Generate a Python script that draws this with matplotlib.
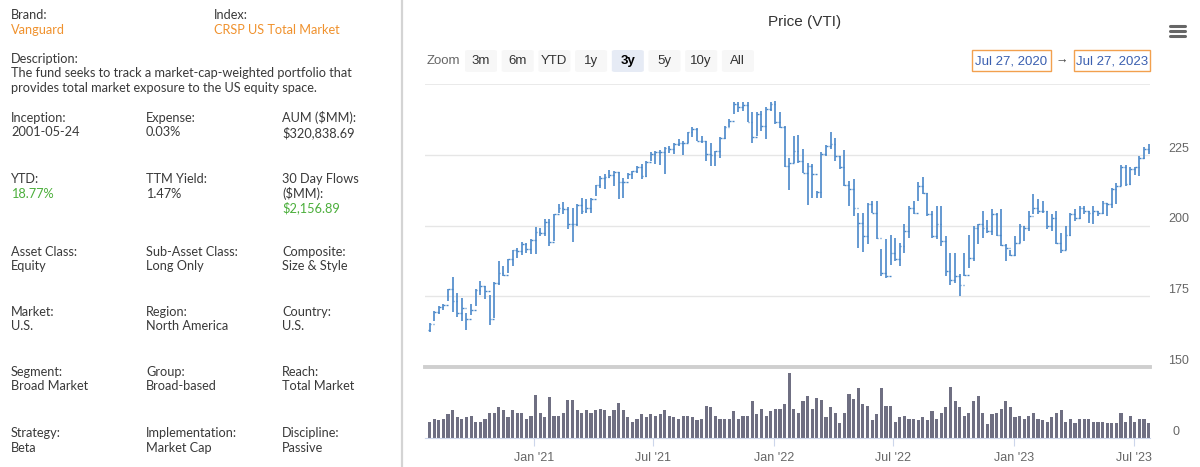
import matplotlib
matplotlib.use("Agg")
import matplotlib.pyplot as plt
import matplotlib.dates as mdates
from matplotlib.patches import FancyBboxPatch, Rectangle
from matplotlib.lines import Line2D
import pandas as pd

# weekly OHLC for VTI, Jul 27 2020 - Jul 24 2023
highs = [165.5, 169.9, 171.4, 172.2, 177.6, 181.8, 176.2, 174.4, 169.1, 172.2,
         177.6, 180.5, 178.5, 175.6, 180.1, 187.4, 185.6, 188.3, 191.5, 192.1,
         194.1, 193.9, 195.3, 199.4, 199.2, 202.2, 202.4, 204.2, 207.5, 208.3,
         206.5, 206.3, 207.7, 209.7, 209.5, 209.7, 214.3, 217.5, 218.1, 219.6,
         219.3, 218.9, 216.9, 218.7, 219.3, 221.1, 221.7, 222.8, 225.8, 226.4,
         226.6, 227.6, 228.2, 229.3, 230.5, 229.9, 233.1, 234.7, 234.3, 231.7,
         229.9, 229.3, 226.4, 231.1, 235.3, 237.6, 243.5, 243.8, 243.5, 243.8,
         240.0, 240.0, 240.6, 241.8, 243.5, 244.1, 240.0, 235.0, 224.0, 231.7,
         231.9, 227.0, 222.2, 221.7, 212.2, 225.8, 228.4, 233.2, 230.8, 224.6,
         226.6, 215.7, 216.3, 204.5, 204.5, 208.1, 208.7, 208.7, 191.7, 195.1,
         196.8, 195.7, 193.9, 200.7, 206.9, 208.7, 215.2, 217.3, 211.6, 205.1,
         206.9, 206.9, 196.2, 190.3, 190.3, 182.7, 190.3, 196.5, 199.8, 200.7,
         205.1, 201.9, 205.7, 204.5, 205.7, 193.3, 191.5, 196.2, 200.4, 199.8,
         205.1, 211.0, 209.5, 208.7, 205.1, 203.9, 205.1, 197.4, 199.8, 204.5,
         205.7, 206.9, 206.9, 205.1, 206.9, 205.1, 208.7, 208.1, 213.4, 214.9,
         221.3, 221.3, 220.8, 220.8, 224.6, 227.6, 228.8]
lows = [162.3, 166.3, 168.7, 170.2, 173.2, 169.3, 167.6, 166.1, 162.9, 168.5,
        171.4, 175.3, 174.1, 164.9, 167.3, 179.1, 182.1, 183.2, 185.6, 188.6,
        189.7, 190.3, 190.1, 190.0, 196.2, 196.2, 192.7, 194.5, 204.5, 204.0,
        198.6, 194.1, 199.8, 204.0, 204.3, 204.5, 210.4, 213.4, 213.0, 216.9,
        214.0, 209.2, 209.8, 216.3, 216.3, 218.7, 216.6, 217.3, 222.8, 221.7,
        221.3, 218.1, 225.6, 225.2, 228.2, 224.8, 229.3, 231.1, 229.9, 229.3,
        222.8, 221.1, 221.1, 224.0, 230.5, 234.7, 239.4, 240.0, 240.6, 236.4,
        229.3, 231.7, 233.5, 230.5, 240.6, 235.8, 234.3, 220.8, 212.6, 222.2,
        222.2, 218.5, 207.1, 209.8, 209.8, 209.8, 224.6, 227.0, 222.8, 219.9,
        214.0, 206.9, 203.3, 192.1, 190.6, 193.3, 204.5, 195.3, 182.1, 181.5,
        186.2, 187.4, 185.6, 190.3, 195.7, 203.9, 208.7, 211.0, 203.3, 195.7,
        195.1, 192.7, 182.1, 179.1, 179.7, 175.0, 182.1, 185.0, 187.4, 193.3,
        195.7, 197.2, 196.8, 196.2, 192.7, 187.4, 189.1, 189.1, 193.9, 194.5,
        198.0, 203.9, 204.1, 204.5, 198.6, 198.0, 193.3, 190.3, 191.5, 196.2,
        201.6, 202.2, 203.9, 201.0, 200.4, 203.3, 203.9, 203.3, 206.3, 207.5,
        214.0, 214.0, 214.2, 217.8, 217.5, 223.4, 225.2]
closes = [165.3, 169.6, 171.1, 172.0, 177.4, 173.4, 169.1, 170.8, 166.9, 170.2,
          177.3, 178.5, 176.7, 166.9, 179.7, 183.2, 182.6, 188.0, 191.3, 190.9,
          193.3, 191.8, 194.7, 197.7, 197.4, 201.2, 194.1, 204.0, 206.3, 205.7,
          200.4, 200.7, 207.1, 205.1, 206.3, 209.2, 214.2, 216.9, 217.3, 217.8,
          218.9, 215.2, 215.2, 218.1, 219.3, 220.5, 217.5, 222.5, 225.2, 226.0,
          225.8, 227.3, 227.0, 228.8, 229.3, 229.3, 232.9, 234.1, 229.9, 230.0,
          225.2, 224.8, 226.2, 230.8, 234.7, 237.0, 242.9, 241.8, 242.7, 236.6,
          231.1, 239.4, 235.3, 241.2, 242.9, 236.4, 234.7, 221.1, 222.2, 226.4,
          222.8, 218.7, 221.1, 218.1, 211.9, 225.2, 228.2, 228.8, 224.6, 220.5,
          214.2, 212.8, 206.3, 201.0, 196.2, 207.5, 204.5, 195.5, 183.2, 182.1,
          190.3, 188.0, 192.7, 198.0, 206.3, 204.5, 214.0, 211.6, 203.9, 196.2,
          200.4, 194.5, 183.8, 180.9, 182.1, 179.1, 182.6, 188.6, 199.2, 200.4,
          199.2, 198.0, 203.9, 196.8, 193.0, 192.1, 189.7, 193.9, 199.8, 199.2,
          203.3, 206.3, 205.1, 205.1, 199.8, 202.7, 193.9, 191.5, 196.8, 203.9,
          202.7, 206.3, 205.1, 204.5, 205.1, 204.5, 208.1, 207.5, 212.8, 214.0,
          220.8, 214.6, 220.1, 220.5, 224.0, 227.0, 226.4]
first_open = 163.0

volumes = [2.7, 3.2, 3.1, 3.2, 4.0, 4.7, 3.5, 3.2, 3.5, 3.7,
           2.8, 2.8, 3.3, 4.2, 4.2, 5.2, 4.8, 3.5, 4.7, 4.3,
           4.3, 3.3, 3.8, 7.3, 4.3, 3.5, 7.0, 3.7, 3.7, 4.2,
           6.5, 6.5, 4.8, 4.3, 4.8, 4.3, 4.7, 5.0, 4.8, 3.7,
           4.7, 6.0, 4.7, 3.5, 2.8, 3.2, 4.0, 3.5, 4.0, 3.8,
           4.0, 4.7, 3.7, 3.5, 3.3, 3.8, 3.7, 3.5, 3.0, 3.3,
           5.5, 5.3, 3.8, 3.2, 3.2, 3.2, 4.5, 3.2, 3.7, 3.7,
           6.3, 4.0, 5.0, 3.7, 4.5, 5.0, 5.0, 5.8, 11.0, 5.0,
           4.2, 6.2, 7.2, 5.0, 6.8, 6.5, 3.5, 5.2, 4.2, 2.5,
           4.3, 7.5, 6.7, 8.5, 5.7, 5.5, 3.0, 4.0, 8.5, 5.5,
           5.5, 2.8, 3.5, 3.7, 3.3, 3.3, 3.0, 3.5, 3.0, 4.5,
           3.3, 4.2, 5.3, 8.7, 6.2, 5.3, 3.8, 4.3, 6.3, 7.2,
           4.3, 2.3, 4.0, 4.3, 5.0, 6.2, 5.3, 3.5, 3.8, 3.2,
           3.7, 4.3, 3.2, 3.0, 2.8, 3.5, 4.3, 4.8, 2.8, 3.3,
           2.5, 3.3, 3.2, 3.2, 2.8, 2.7, 2.8, 2.5, 2.5, 2.5,
           4.3, 2.7, 3.7, 2.7, 3.3, 3.2, 2.5]

dates = pd.date_range("2020-07-27", periods=len(closes), freq="W-MON")
opens = [first_open] + closes[:-1]

price_ticks = [150, 175, 200, 225]
zoom_buttons = ["3m", "6m", "YTD", "1y", "3y", "5y", "10y", "All"]
selected_button = "3y"
range_from = "Jul 27, 2020"
range_to = "Jul 27, 2023"

# left info panel: (label, value, value colour)
info_rows = [
    [("Inception:", "2001-05-24", None), ("Expense:", "0.03%", None), ("AUM ($MM):", "$320,838.69", None)],
    [("YTD:", "18.77%", "green"), ("TTM Yield:", "1.47%", None), ("30 Day Flows\n($MM):", "$2,156.89", "green")],
    [("Asset Class:", "Equity", None), ("Sub-Asset Class:", "Long Only", None), ("Composite:", "Size & Style", None)],
    [("Market:", "U.S.", None), ("Region:", "North America", None), ("Country:", "U.S.", None)],
    [("Segment:", "Broad Market", None), ("Group:", "Broad-based", None), ("Reach:", "Total Market", None)],
    [("Strategy:", "Beta", None), ("Implementation:", "Market Cap", None), ("Discipline:", "Passive", None)],
]

W, H = 1200, 467
TXT = "#3a3a3a"
ORANGE = "#f0922e"
GREEN = "#4caf3c"
PANEL_FONT = ["Lato", "DejaVu Sans"]
CHART_FONT = ["Liberation Sans Narrow", "Liberation Sans", "DejaVu Sans"]


def fx(x):
    return x / W


def fy(y):
    return 1 - y / H


fig = plt.figure(figsize=(12, 4.67), dpi=100)
fig.patch.set_facecolor("white")


def ptext(x, y, s, color=TXT, **kw):
    fig.text(fx(x), fy(y), s, color=color, fontsize=9.2, family=PANEL_FONT,
             va="center", ha="left", **kw)


# ---- left panel ----
ptext(11, 15, "Brand:")
ptext(11, 30, "Vanguard", color=ORANGE)
ptext(214, 15, "Index:")
ptext(214, 30, "CRSP US Total Market", color=ORANGE)
ptext(11, 59, "Description:")
ptext(11, 73, "The fund seeks to track a market-cap-weighted portfolio that")
ptext(11, 88, "provides total market exposure to the US equity space.")

row_y = [118, 179, 252, 312, 372, 433]
col_x = [11, 146, 282]
for ry, row in zip(row_y, info_rows):
    for cx, (lab, val, col) in zip(col_x, row):
        lines = lab.split("\n")
        for k, ln in enumerate(lines):
            ptext(cx, ry + 14.5 * k, ln)
        ptext(cx, ry + 14.5 * len(lines), val, color=GREEN if col == "green" else TXT)

fig.add_artist(Line2D([fx(402), fx(402)], [0, 1], color="#d4d4d4", lw=1.6))

# ---- chart header ----
fig.text(fx(805), fy(22), "Price (VTI)", ha="center", va="center", fontsize=11,
         color="#333333", family=CHART_FONT)
for yy in (26, 31, 36):
    fig.add_artist(Line2D([fx(1170), fx(1185)], [fy(yy), fy(yy)], color="#666666",
                          lw=2.2, solid_capstyle="round"))

fig.text(fx(427), fy(61), "Zoom", ha="left", va="center", fontsize=9.5,
         color="#666666", family=CHART_FONT)
bx = 465
for b in zoom_buttons:
    sel = b == selected_button
    fig.add_artist(FancyBboxPatch((fx(bx), fy(72)), fx(32), 22 / H,
                                  boxstyle="round,pad=0,rounding_size=0.003",
                                  fc="#e6ebf5" if sel else "#f7f7f7", ec="none"))
    fig.text(fx(bx + 16), fy(61), b, ha="center", va="center", fontsize=9.5,
             color="#000000" if sel else "#333333",
             fontweight="bold" if sel else "normal", family=CHART_FONT)
    bx += 36.7

for x0, x1, s in ((972, 1051, range_from), (1074, 1150, range_to)):
    fig.add_artist(Rectangle((fx(x0), fy(71)), fx(x1 - x0), 21 / H, fill=False,
                             ec="#f2a04e", lw=1.0))
    fig.text(fx((x0 + x1) / 2), fy(61), s, ha="center", va="center", fontsize=9.5,
             color="#3a5fb0", family=CHART_FONT)
fig.text(fx(1062), fy(61), "\u2192", ha="center", va="center", fontsize=9,
         color="#444444", family=CHART_FONT)

# ---- price panel ----
xlim = (pd.Timestamp("2020-07-20"), pd.Timestamp("2023-07-26"))
tick_half = pd.Timedelta(days=2.6)
bar_color = "#4a88c9"

ax = fig.add_axes([fx(425), fy(367), fx(725), 283 / H])
ax.vlines(dates, lows, highs, color=bar_color, lw=1.2)
ax.hlines(opens, dates - tick_half, dates, color=bar_color, lw=1.0)
ax.hlines(closes, dates, dates + tick_half, color=bar_color, lw=1.0)
ax.set_xlim(*xlim)
ax.set_ylim(150, 250)
ax.set_yticks(price_ticks)
ax.yaxis.tick_right()
ax.tick_params(axis="y", length=0, pad=13, labelsize=9, labelcolor="#666666")
for lbl in ax.get_yticklabels():
    lbl.set_va("bottom")
    lbl.set_family(CHART_FONT)
ax.set_xticks([])
ax.grid(axis="y", color="#e6e6e6", lw=1)
ax.axhline(250, color="#e6e6e6", lw=1.2)
for s in ("top", "left", "right"):
    ax.spines[s].set_visible(False)
ax.spines["bottom"].set_color("#cfcfcf")
ax.spines["bottom"].set_linewidth(2.8)
ax.set_axisbelow(True)

# ---- volume panel ----
vax = fig.add_axes([fx(425), fy(438), fx(725), 66 / H])
vax.bar(dates, volumes, width=4.8, color="#6f6f82", align="center")
vax.set_xlim(*xlim)
vax.set_ylim(0, 11.2)
vax.set_yticks([0])
vax.yaxis.tick_right()
vax.tick_params(axis="y", length=0, pad=16, labelsize=9, labelcolor="#666666")
for lbl in vax.get_yticklabels():
    lbl.set_va("bottom")
    lbl.set_family(CHART_FONT)
vax.xaxis.set_major_locator(mdates.MonthLocator(bymonth=[1, 7]))
vax.xaxis.set_major_formatter(mdates.DateFormatter("%b '%y"))
vax.tick_params(axis="x", length=6, color="#ccd6eb", labelsize=9,
                labelcolor="#666666", pad=4)
for lbl in vax.get_xticklabels():
    lbl.set_family(CHART_FONT)
for s in ("top", "left", "right"):
    vax.spines[s].set_visible(False)
vax.spines["bottom"].set_color("#ccd6eb")

fig.savefig("out.png", dpi=100, facecolor="white")
